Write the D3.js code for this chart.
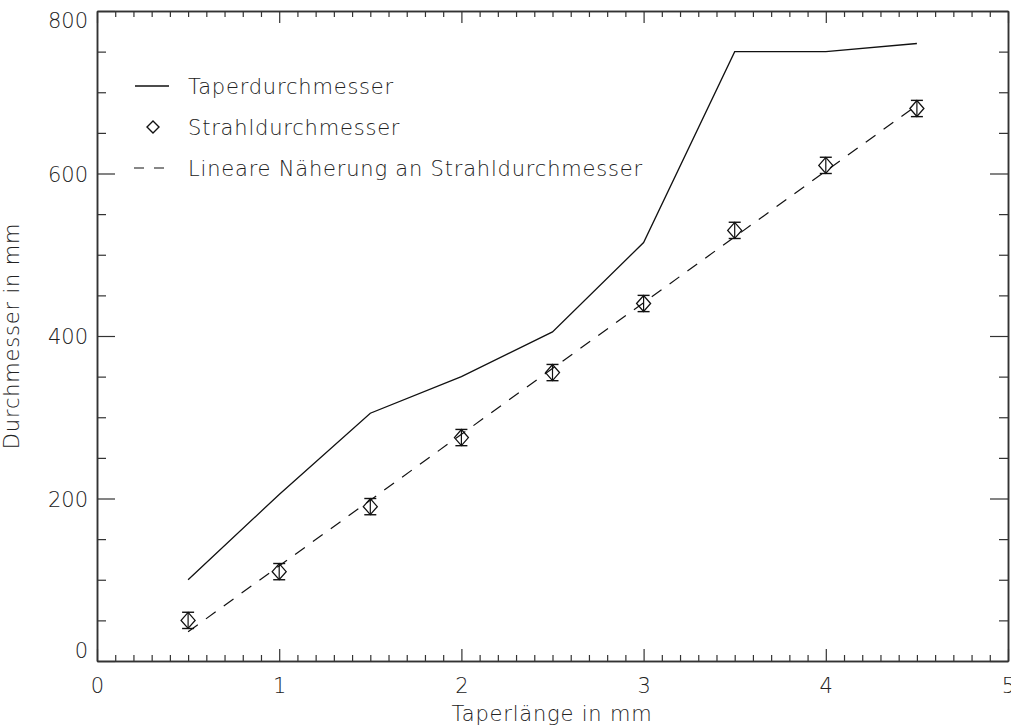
<!DOCTYPE html>
<html>
<head>
<meta charset="utf-8">
<script src="https://cdn.jsdelivr.net/npm/d3@7"></script>
<style>
  body { margin: 0; background: #fff; }
  text { font-family: "DejaVu Sans", sans-serif; font-weight: 200; fill: #222; }
</style>
</head>
<body>
<svg id="chart" width="1011" height="728"></svg>
<script>
// Chart data
const taperX = [0.5, 1.0, 1.5, 2.0, 2.5, 3.0, 3.5, 4.0, 4.5];
const taperY = [100, 205, 305, 350, 405, 515, 750, 750, 760];
const strahlX = [0.5, 1.0, 1.5, 2.0, 2.5, 3.0, 3.5, 4.0, 4.5];
const strahlY = [50, 110, 190, 275, 355, 440, 530, 610, 680];
const strahlErr = [10, 10, 10, 10, 10, 10, 10, 10, 10];
const fitX = [0.5, 4.5];
const fitY = [36, 684];
const xTicks = [0, 1, 2, 3, 4, 5];
const yTicks = [0, 200, 400, 600, 800];
const legendLabels = ["Taperdurchmesser", "Strahldurchmesser", "Lineare Näherung an Strahldurchmesser"];

const X0 = 97, X1 = 1008, Y0 = 661, Y1 = 11;

const svg = d3.select("#chart");
const x = d3.scaleLinear().domain([0, 5]).range([X0, X1]);
const y = d3.scaleLinear().domain([0, 800]).range([Y0, Y1]);

const xMinor = d3.range(0, 50).map(d => d / 10).filter(d => d % 1 !== 0);
const yMinor = d3.range(0, 800, 50).filter(d => d % 200 !== 0);

function styleAxis(g) {
    g.selectAll("path.domain").attr("stroke", "#333").attr("stroke-width", 1.5);
    g.selectAll(".tick line").attr("stroke", "#333").attr("stroke-width", 1.2);
    g.selectAll("text").attr("font-size", 21).attr("fill", "#222")
        .attr("font-family", "DejaVu Sans, sans-serif");
}

// bottom axis
svg.append("g").attr("transform", `translate(0,${Y0})`)
    .call(d3.axisBottom(x).tickValues(xTicks).tickSize(-12).tickSizeOuter(0).tickPadding(17).tickFormat(d3.format("d")))
    .call(styleAxis);
svg.append("g").attr("transform", `translate(0,${Y0})`)
    .call(d3.axisBottom(x).tickValues(xMinor).tickSize(-6).tickSizeOuter(0).tickFormat(""))
    .call(styleAxis);
// top axis
svg.append("g").attr("transform", `translate(0,${Y1})`)
    .call(d3.axisTop(x).tickValues(xTicks).tickSize(-12).tickSizeOuter(0).tickFormat(""))
    .call(styleAxis);
svg.append("g").attr("transform", `translate(0,${Y1})`)
    .call(d3.axisTop(x).tickValues(xMinor).tickSize(-6).tickSizeOuter(0).tickFormat(""))
    .call(styleAxis);
// left axis
const yAxisG = svg.append("g").attr("transform", `translate(${X0},0)`)
    .call(d3.axisLeft(y).tickValues(yTicks).tickSize(-18).tickSizeOuter(0).tickPadding(9).tickFormat(d3.format("d")))
    .call(styleAxis);
yAxisG.selectAll(".tick text").attr("dy", d => d === 0 ? "-0.15em" : d === 800 ? "0.8em" : "0.36em");
svg.append("g").attr("transform", `translate(${X0},0)`)
    .call(d3.axisLeft(y).tickValues(yMinor).tickSize(-9).tickSizeOuter(0).tickFormat(""))
    .call(styleAxis);
// right axis
svg.append("g").attr("transform", `translate(${X1},0)`)
    .call(d3.axisRight(y).tickValues(yTicks).tickSize(-18).tickSizeOuter(0).tickFormat(""))
    .call(styleAxis);
svg.append("g").attr("transform", `translate(${X1},0)`)
    .call(d3.axisRight(y).tickValues(yMinor).tickSize(-9).tickSizeOuter(0).tickFormat(""))
    .call(styleAxis);

// axis titles
svg.append("text")
    .attr("x", 552).attr("y", 721)
    .attr("text-anchor", "middle").attr("font-size", 21)
    .attr("letter-spacing", 0.8)
    .text("Taperlänge in mm");
svg.append("text")
    .attr("transform", `translate(19,${(Y0 + Y1) / 2}) rotate(-90)`)
    .attr("text-anchor", "middle").attr("font-size", 21)
    .attr("letter-spacing", 0.8)
    .text("Durchmesser in mm");

const line = d3.line().x(d => x(d[0])).y(d => y(d[1]));

// Taperdurchmesser
svg.append("path")
    .datum(taperX.map((d, i) => [d, taperY[i]]))
    .attr("d", line).attr("fill", "none")
    .attr("stroke", "#111").attr("stroke-width", 1.3);

// linear fit
svg.append("path")
    .datum(fitX.map((d, i) => [d, fitY[i]]))
    .attr("d", line).attr("fill", "none")
    .attr("stroke", "#111").attr("stroke-width", 1.2)
    .attr("stroke-dasharray", "12,10");

// Strahldurchmesser with error bars
const pts = svg.append("g").selectAll("g")
    .data(strahlX.map((d, i) => ({ x: d, y: strahlY[i], e: strahlErr[i] })))
    .join("g");
pts.append("line")
    .attr("x1", d => x(d.x)).attr("x2", d => x(d.x))
    .attr("y1", d => y(d.y + d.e)).attr("y2", d => y(d.y - d.e))
    .attr("stroke", "#111").attr("stroke-width", 1.2);
pts.selectAll("line.cap")
    .data(d => [d.y + d.e, d.y - d.e].map(v => ({ x: d.x, v })))
    .join("line").attr("class", "cap")
    .attr("x1", d => x(d.x) - 6).attr("x2", d => x(d.x) + 6)
    .attr("y1", d => y(d.v)).attr("y2", d => y(d.v))
    .attr("stroke", "#111").attr("stroke-width", 1.4);
pts.append("path")
    .attr("d", d => {
        const cx = x(d.x), cy = y(d.y);
        return `M${cx - 7},${cy}L${cx},${cy - 8}L${cx + 7},${cy}L${cx},${cy + 8}Z`;
    })
    .attr("fill", "none").attr("stroke", "#111").attr("stroke-width", 1.3);

// legend
const legY = [86, 127, 168];
const leg = svg.append("g");
leg.append("line").attr("x1", 135).attr("x2", 169).attr("y1", legY[0]).attr("y2", legY[0])
    .attr("stroke", "#111").attr("stroke-width", 1.3);
leg.append("path")
    .attr("d", `M147,${legY[1]}L153,${legY[1] - 6}L159,${legY[1]}L153,${legY[1] + 6}Z`)
    .attr("fill", "none").attr("stroke", "#111").attr("stroke-width", 1.4);
leg.append("line").attr("x1", 134).attr("x2", 168).attr("y1", legY[2]).attr("y2", legY[2])
    .attr("stroke", "#111").attr("stroke-width", 1.2).attr("stroke-dasharray", "10,10");
leg.selectAll("text").data(legendLabels).join("text")
    .attr("x", 188).attr("y", (d, i) => legY[i] + 8)
    .attr("font-size", 21)
    .attr("letter-spacing", 0.8)
    .text(d => d);
</script>
</body>
</html>
